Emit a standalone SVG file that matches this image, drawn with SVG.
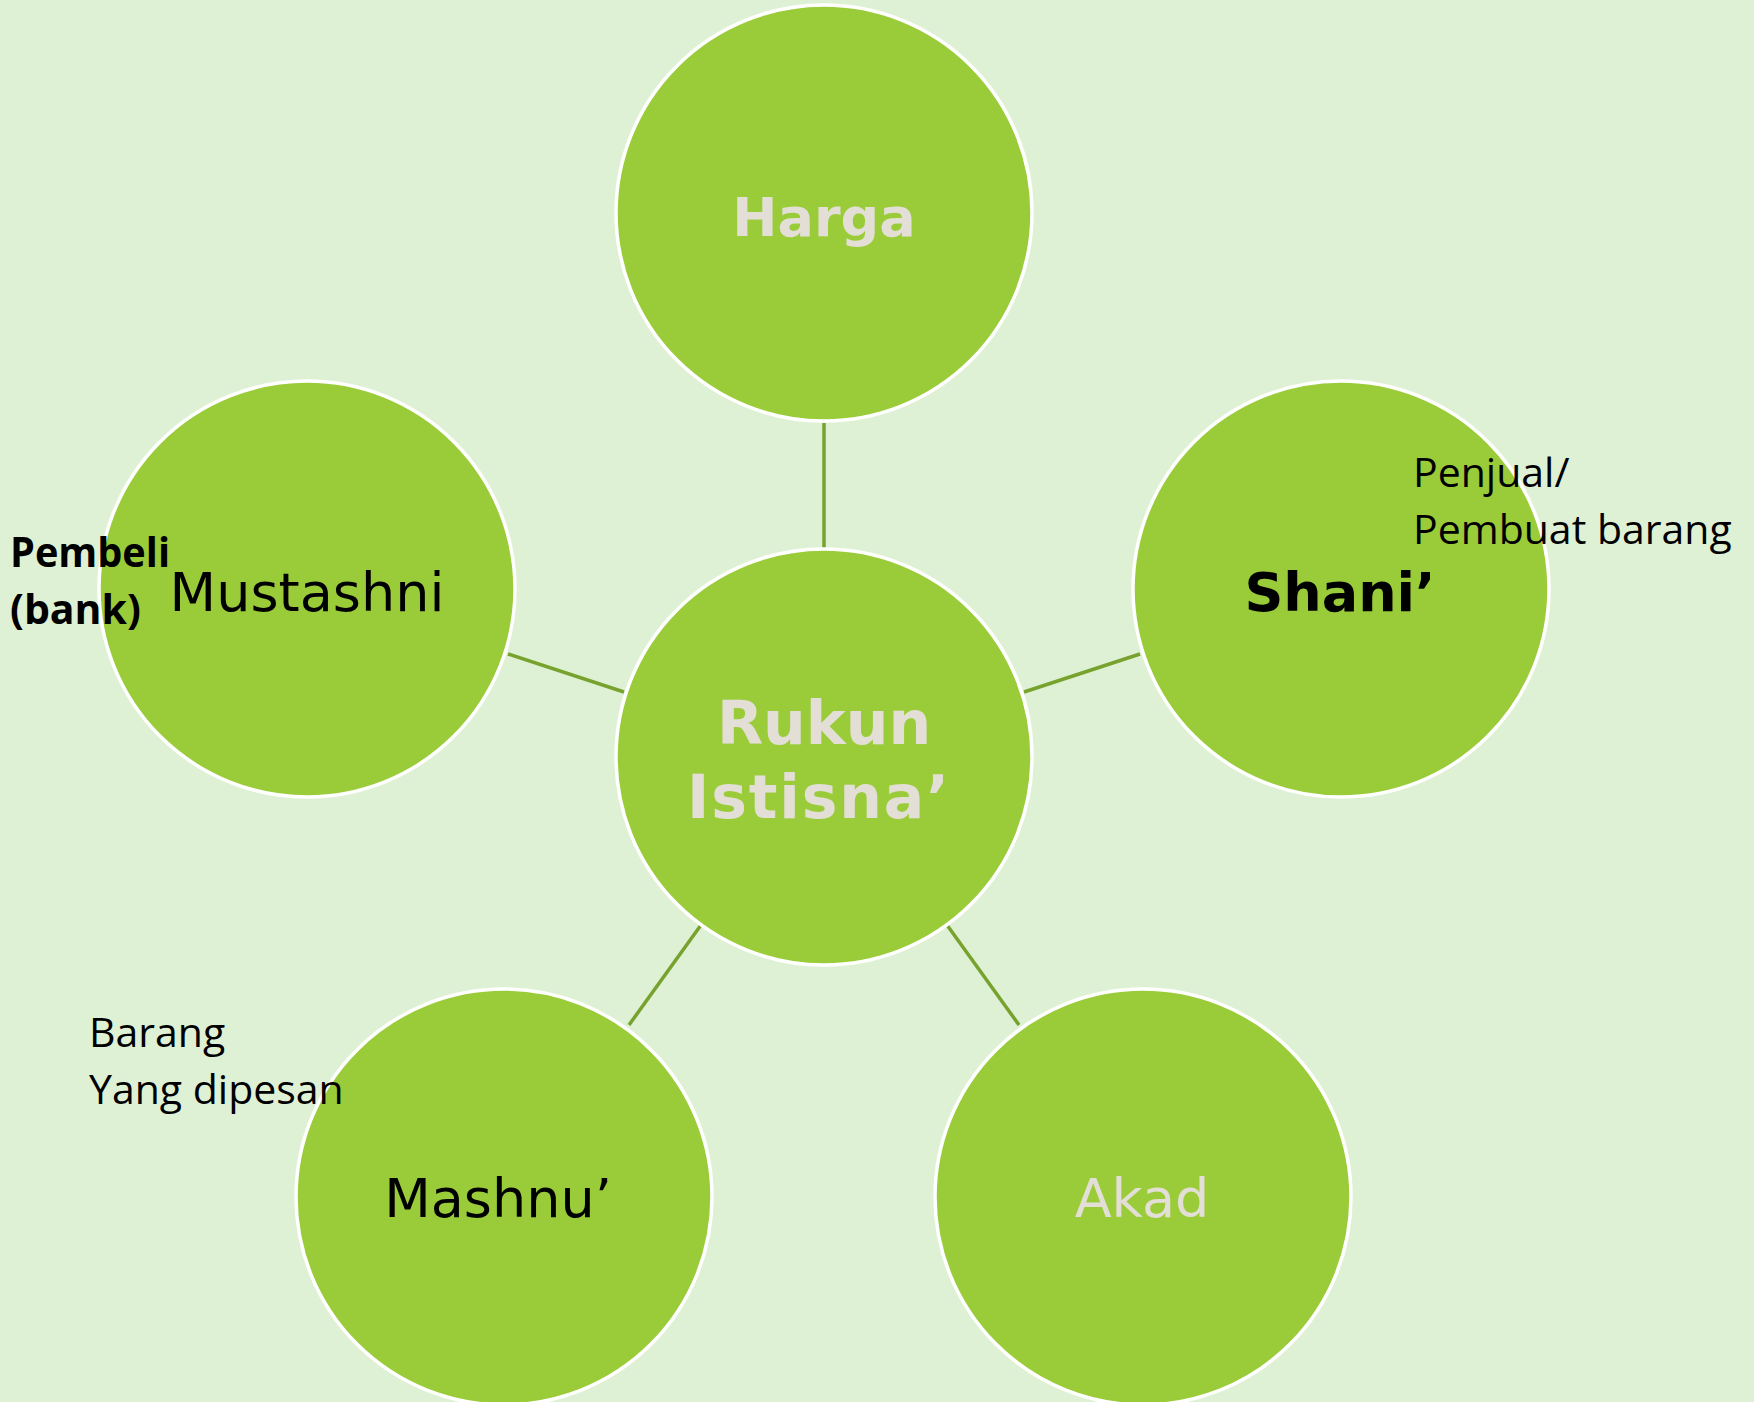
<svg xmlns="http://www.w3.org/2000/svg" width="1754" height="1402" viewBox="0 0 1754 1402">
  <style>
    .node { fill: #9ACC39; stroke: #FFFFFF; stroke-width: 3.5; }
    .conn { stroke: #77A22E; stroke-width: 3.5; fill: none; }
    .lbl { font-family: "DejaVu Sans", Verdana, sans-serif; font-size: 54px; text-anchor: middle; }
    .light { fill: #E3DED6; }
    .dark { fill: #000000; }
    .bold { font-weight: bold; }
    .note { font-family: "Open Sans", "Noto Sans", sans-serif; font-size: 41px; fill: #000000; }
  </style>
  <rect x="0" y="0" width="1754" height="1402" fill="#DFF1D4"/>
  <g id="connectors">
    <line class="conn" x1="824" y1="423" x2="824" y2="548"/>
    <line class="conn" x1="508" y1="654" x2="624" y2="692"/>
    <line class="conn" x1="1140" y1="654" x2="1024" y2="692"/>
    <line class="conn" x1="701" y1="925" x2="629" y2="1025"/>
    <line class="conn" x1="947" y1="925" x2="1019" y2="1025"/>
  </g>
  <g id="node-harga">
    <circle class="node" cx="824" cy="213" r="208"/>
    <text class="lbl light bold" x="824" y="236">Harga</text>
  </g>
  <g id="node-mustashni">
    <circle class="node" cx="307" cy="589" r="208"/>
    <text class="lbl dark" x="307" y="611">Mustashni</text>
  </g>
  <g id="node-shani">
    <circle class="node" cx="1341" cy="589" r="208"/>
    <text class="lbl dark bold" x="1340" y="611">Shani’</text>
  </g>
  <g id="node-mashnu">
    <circle class="node" cx="504" cy="1197" r="208"/>
    <text class="lbl dark" x="498" y="1217">Mashnu’</text>
  </g>
  <g id="node-akad">
    <circle class="node" cx="1143" cy="1197" r="208"/>
    <text class="lbl light" x="1142" y="1217">Akad</text>
  </g>
  <g id="node-center">
    <circle class="node" cx="824" cy="757" r="208"/>
    <text class="lbl light bold" style="font-size:60px" x="824" y="744">Rukun</text>
    <text class="lbl light bold" style="font-size:60px" x="818" y="818" textLength="262" lengthAdjust="spacing">Istisna’</text>
  </g>
  <g id="note-pembeli">
    <text class="note bold" x="10" y="567" textLength="160" lengthAdjust="spacingAndGlyphs">Pembeli</text>
    <text class="note bold" x="10" y="624">(bank)</text>
  </g>
  <g id="note-penjual">
    <text class="note" x="1413" y="487">Penjual/</text>
    <text class="note" x="1413" y="544">Pembuat barang</text>
  </g>
  <g id="note-barang">
    <text class="note" x="89" y="1047">Barang</text>
    <text class="note" x="89" y="1104">Yang dipesan</text>
  </g>
</svg>
